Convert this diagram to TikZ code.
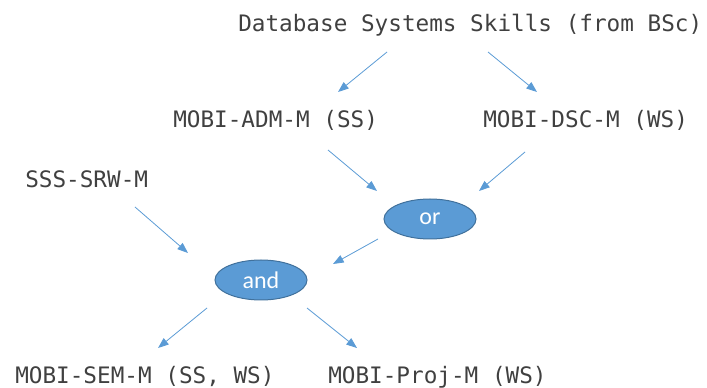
\documentclass[tikz,border=0pt]{standalone}
\usepackage{fontspec}
\setmonofont{DejaVu Sans Mono}
\newfontfamily\opfont{Carlito}
\usetikzlibrary{shapes.geometric}
\usepgflibrary{arrows.meta}
\definecolor{lineblue}{HTML}{5B9BD5}
\definecolor{edgeblue}{HTML}{41719C}
\definecolor{txtgray}{HTML}{404040}
\tikzset{
  course/.style={anchor=base west,inner sep=0pt,text=txtgray,font=\ttfamily\fontsize{17pt}{20pt}\selectfont},
  logic/.style={ellipse,draw=edgeblue,line width=0.75pt,fill=lineblue,text=white,minimum width=69pt,minimum height=30pt,inner sep=0pt,font=\opfont\fontsize{18pt}{20pt}\selectfont},
  arr/.style={draw=lineblue,line width=0.6pt,-{Triangle[length=8pt,width=6pt]}}
}
\begin{document}
\begin{tikzpicture}[x=0.75pt,y=-0.75pt]
        \useasboundingbox (0,0) rectangle (707,388);
        %课程
        \node[course] (title) at (238,32) {Database Systems Skills (from BSc)};
        \node[course] (adm) at (173,128) {MOBI-ADM-M (SS)};
        \node[course] (dsc) at (483,128) {MOBI-DSC-M (WS)};
        \node[course] (srw) at (25,188) {SSS-SRW-M};
        \node[course] (sem) at (15,383) {MOBI-SEM-M (SS, WS)};
        \node[course] (proj) at (328,383) {MOBI-Proj-M (WS)};
        %逻辑
        \node[logic] (orop) at (430,219) {or};
        \node[logic] (andop) at (261,280) {and};
        %箭头
        \draw[arr] ([shift={(149,20)}]title.base west) -- ([shift={(165,-36)}]adm.base west);
        \draw[arr] ([shift={(250,20)}]title.base west) -- ([shift={(54,-36)}]dsc.base west);
        \draw[arr] ([shift={(155,22)}]adm.base west) -- ([shift={(-53,-28)}]orop.center);
        \draw[arr] ([shift={(42,24)}]dsc.base west) -- ([shift={(49,-28)}]orop.center);
        \draw[arr] ([shift={(-52,20)}]orop.center) -- ([shift={(72,-16)}]andop.center);
        \draw[arr] ([shift={(110,19)}]srw.base west) -- ([shift={(-73,-27)}]andop.center);
        \draw[arr] ([shift={(-54,28)}]andop.center) -- ([shift={(143,-35)}]sem.base west);
        \draw[arr] ([shift={(46,28)}]andop.center) -- ([shift={(29,-35)}]proj.base west);
\end{tikzpicture}
\end{document}
